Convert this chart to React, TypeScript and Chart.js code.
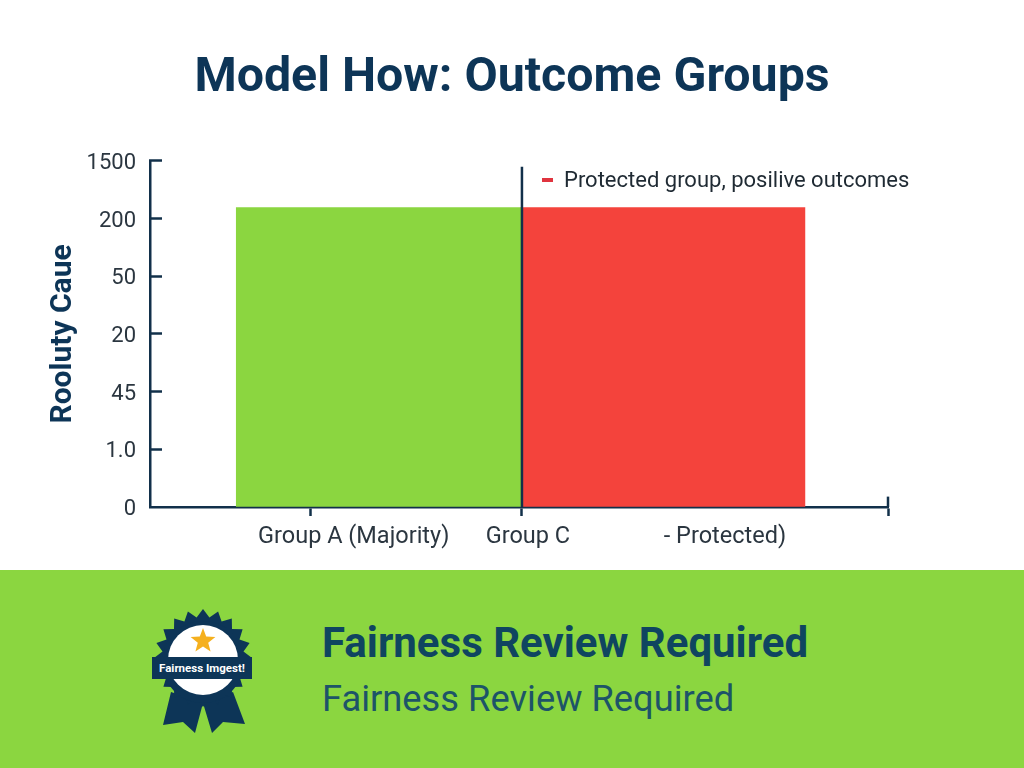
import React, { useEffect, useRef } from "react";
import { Chart, registerables } from "chart.js";

Chart.register(...registerables);

const titleText = "Model How: Outcome Groups";
const yAxisTitle = "Rooluty Caue";
const yTickLabels = ["0", "1.0", "45", "20", "50", "200", "1500"];
const yTickPositions = [0, 1, 2, 3, 4, 5, 6];
const xTickPositions = [21.7, 50.4, 100];
const xLabelPositions = [27.6, 51.2, 77.9];
const xLabels = ["Group A (Majority)", "Group C", "- Protected)"];
const greenBar = [{ x: 31.0, y: 5.19 }];
const redBar = [{ x: 69.5, y: 5.19 }];
const dividerLine = [{ x: 50.4, y: 0 }, { x: 50.4, y: 5.9 }];
const axisEndCap = [{ x: 100, y: 0 }, { x: 100, y: 0.18 }];
const legendText = "Protected group, posilive outcomes";
const bannerTitle = "Fairness Review Required";
const bannerSubtitle = "Fairness Review Required";
const badgeText = "Fairness Imgest!";

const NAVY = "#0d3557";
const AXIS = "#12304a";
const TEXT = "#2b3640";
const GREEN = "#8bd640";
const RED = "#f4433c";
const FONT = "Roboto, sans-serif";

function rosettePoints(cx: number, cy: number, outer: number, inner: number, n: number) {
  const pts: string[] = [];
  for (let i = 0; i < n * 2; i++) {
    const r = i % 2 === 0 ? outer : inner;
    const a = (Math.PI * i) / n - Math.PI / 2;
    pts.push(`${(cx + r * Math.cos(a)).toFixed(1)},${(cy + r * Math.sin(a)).toFixed(1)}`);
  }
  return pts.join(" ");
}

function Badge() {
  return (
    <svg width="150" height="140" viewBox="130 600 150 140" style={{ position: "absolute", left: 130, top: 30 }}>
      <polygon points="171,692 163,725 183,722 195,733 203,703" fill={NAVY} />
      <polygon points="203,703 212,733 223,722 245,724 233,692" fill={NAVY} />
      <polygon points={rosettePoints(203, 658, 49, 41, 20)} fill={NAVY} />
      <circle cx="203" cy="662" r="41" fill={NAVY} />
      <circle cx="203" cy="660" r="35" fill="#ffffff" />
      <polygon points={rosettePoints(203, 641, 13, 5.5, 5)} fill="#f5b01e" />
      <rect x="152" y="657" width="100" height="22" fill={NAVY} />
      <text x="202" y="672" textAnchor="middle" fill="#ffffff" fontFamily={FONT} fontWeight="700" fontSize="11.5">
        {badgeText}
      </text>
    </svg>
  );
}

const nudgeYLabels = {
  id: "nudgeYLabels",
  beforeDraw(chart: any) {
    if (chart.$labelsNudged) return;
    chart.$labelsNudged = true;
    chart.scales.y.getLabelItems().forEach((item: any) => {
      item.options.translation = [item.options.translation[0], item.options.translation[1] + 2.5];
    });
  },
};

export default function App() {
  const ref = useRef<HTMLCanvasElement | null>(null);

  useEffect(() => {
    if (!ref.current) return;
    const chart = new Chart(ref.current, {
      type: "bar",
      plugins: [nudgeYLabels],
      data: {
        datasets: [
          { type: "line", label: "Divider", data: dividerLine, borderColor: AXIS, borderWidth: 2.5, pointRadius: 0, order: -1 },
          { type: "line", label: "Axis end", data: axisEndCap, borderColor: AXIS, borderWidth: 2.5, pointRadius: 0, order: -1, clip: false },
          { label: "Group A (Majority)", data: greenBar, backgroundColor: GREEN, barThickness: 285, order: 1 },
          { label: "Protected group, positive outcomes", data: redBar, backgroundColor: RED, barThickness: 284, order: 1 },
        ],
      } as any,
      options: {
        responsive: false,
        animation: false,
        datasets: { bar: { grouped: false } },
        layout: { padding: 0 },
        plugins: {
          legend: { display: false },
          tooltip: { enabled: false },
          title: {
            display: true,
            text: titleText,
            color: NAVY,
            font: { family: FONT, size: 48.3, weight: "bold" },
            padding: { top: 50, bottom: 53 },
          },
        },
        scales: {
          x: {
            type: "linear",
            position: "bottom",
            min: 0,
            max: 100,
            offset: false,
            grid: { offset: false, drawOnChartArea: false, drawTicks: true, tickLength: 9, tickWidth: 2.5, color: AXIS },
            border: { color: AXIS, width: 2.5 },
            ticks: { display: false },
            afterBuildTicks: (s: any) => { s.ticks = xTickPositions.map((value) => ({ value })); },
            afterFit: (s: any) => { s.height = 8; },
          },
          x2: {
            type: "linear",
            position: "bottom",
            min: 0,
            max: 100,
            offset: false,
            grid: { display: false, offset: false },
            border: { display: false },
            ticks: {
              color: TEXT,
              font: { family: FONT, size: 23.5 },
              padding: 0,
              autoSkip: false,
              maxRotation: 0,
              callback: (v: any) => xLabels[xLabelPositions.indexOf(v)] ?? "",
            },
            afterBuildTicks: (s: any) => { s.ticks = xLabelPositions.map((value) => ({ value })); },
            afterFit: (s: any) => { s.height = 55; },
          },
          y: {
            type: "linear",
            min: 0,
            max: 6,
            grid: {
              drawOnChartArea: false,
              drawTicks: true,
              tickLength: -12,
              tickWidth: 2.5,
              color: AXIS,
              tickColor: (c: any) => (c.tick && c.tick.value === 0 ? "rgba(0,0,0,0)" : AXIS),
            },
            border: { color: AXIS, width: 2.5 },
            title: {
              display: true,
              text: yAxisTitle,
              color: NAVY,
              font: { family: FONT, size: 30, weight: "bold" },
              padding: { top: 45, bottom: 0 },
            },
            ticks: {
              color: TEXT,
              font: { family: FONT, size: 22 },
              padding: 26,
              autoSkip: false,
              callback: (v: any) => yTickLabels[yTickPositions.indexOf(v)] ?? "",
            },
            afterBuildTicks: (s: any) => { s.ticks = yTickPositions.map((value) => ({ value })); },
            afterFit: (s: any) => { s.width = 150; },
          },
          rightGutter: {
            type: "linear",
            position: "right",
            min: 0,
            max: 1,
            grid: { display: false },
            border: { display: false },
            ticks: { display: false },
            afterFit: (s: any) => { s.width = 136; },
          },
        },
      } as any,
    });
    return () => chart.destroy();
  }, []);

  return (
    <div style={{ position: "absolute", left: 0, top: 0, width: 1024, height: 768, background: "#ffffff", overflow: "hidden", fontFamily: FONT }}>
      <canvas ref={ref} width={1024} height={570} style={{ display: "block", width: 1024, height: 570 }} />
      <div style={{ position: "absolute", left: 542, top: 178, width: 11, height: 4, background: "#e0343f" }} />
      <div style={{ position: "absolute", left: 564, top: 167, fontSize: 22, lineHeight: "26px", color: "#1f2a33", whiteSpace: "nowrap" }}>{legendText}</div>
      <div style={{ position: "absolute", left: 0, top: 570, width: 1024, height: 198, background: GREEN }}>
        <Badge />
        <div style={{ position: "absolute", left: 322, top: 49, fontSize: 42, lineHeight: "48px", fontWeight: 700, color: "#0f4560", whiteSpace: "nowrap" }}>{bannerTitle}</div>
        <div style={{ position: "absolute", left: 322, top: 108, fontSize: 36.3, lineHeight: "42px", color: "#1d5468", whiteSpace: "nowrap" }}>{bannerSubtitle}</div>
      </div>
    </div>
  );
}
